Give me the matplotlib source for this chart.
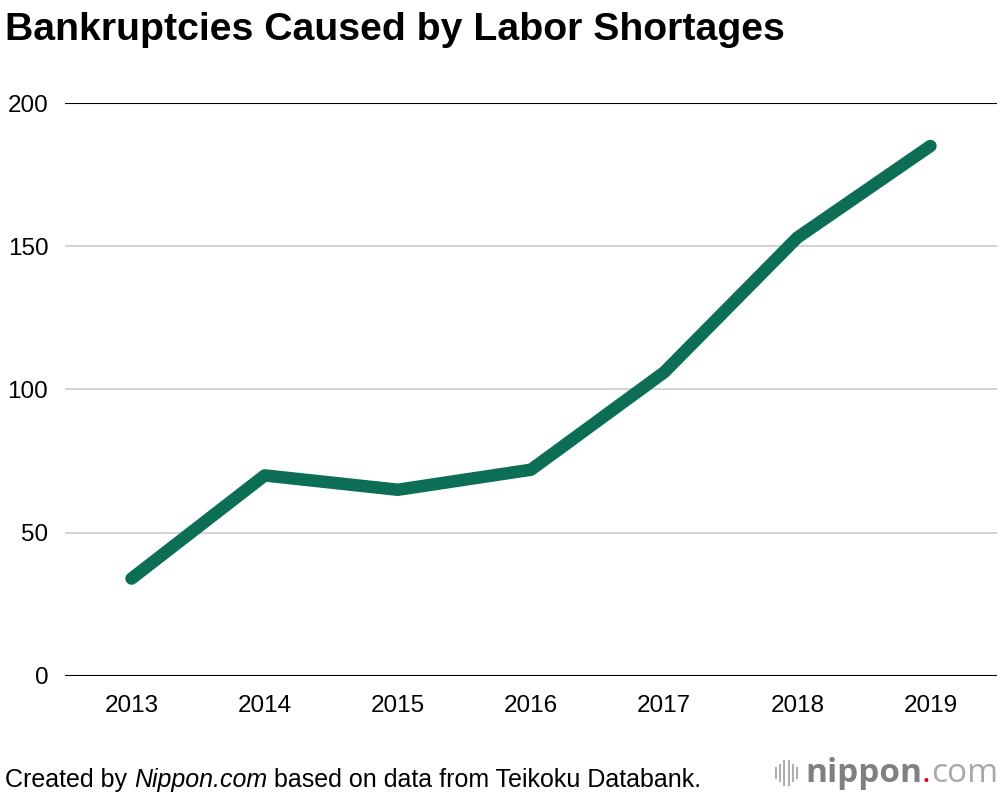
import matplotlib
matplotlib.use("Agg")
import matplotlib.pyplot as plt
from matplotlib.lines import Line2D

years = ["2013", "2014", "2015", "2016", "2017", "2018", "2019"]
bankruptcies = [34, 70, 65, 72, 106, 153, 185]
yticks = [0, 50, 100, 150, 200]

plt.rcParams['font.family'] = ['Liberation Sans', 'DejaVu Sans']

fig = plt.figure(figsize=(10, 7.96), dpi=100)
ax = fig.add_axes([0.065, 0.1508, 0.932, 0.7198])

x = list(range(len(years)))
ax.plot(x, bankruptcies, color='#0b6e55', lw=9, solid_capstyle='round',
        solid_joinstyle='round', zorder=3)

ax.set_xlim(-0.5, len(years) - 0.5)
ax.set_ylim(0, 200)
ax.set_yticks(yticks)
ax.set_xticks(x)
ax.set_xticklabels(years)
for s in ax.spines.values():
    s.set_visible(False)
for t in yticks:
    if t in (0, 200):
        ax.axhline(t, color='black', lw=1.5, zorder=2)
    else:
        ax.axhline(t, color='#cccccc', lw=1.2, zorder=1)
ax.tick_params(axis='both', length=0, labelsize=17.5, colors='black')
ax.tick_params(axis='y', pad=12)
ax.tick_params(axis='x', pad=14)

fig.text(0.005, 1 - 40 / 796, "Bankruptcies Caused by Labor Shortages", fontsize=28.3,
         fontweight='bold', ha='left', va='baseline')

fs = 18
yb = 1 - 787 / 796
fig.canvas.draw()
r = fig.canvas.get_renderer()
t1 = fig.text(0.005, yb, "Created by ", fontsize=fs, ha='left', va='baseline')
bb = t1.get_window_extent(r)
t2 = fig.text(bb.x1 / fig.bbox.width, yb, "Nippon.com", fontsize=fs, style='italic',
              ha='left', va='baseline')
bb2 = t2.get_window_extent(r)
fig.text(bb2.x1 / fig.bbox.width, yb, " based on data from Teikoku Databank.", fontsize=fs,
         ha='left', va='baseline')

# logo
lx = 0.776
heights = [0.012, 0.02, 0.03, 0.03, 0.02, 0.012]
for i, h in enumerate(heights):
    xx = lx + i * 0.0042
    fig.add_artist(Line2D([xx, xx], [0.029 - h / 2, 0.029 + h / 2], color='#b0b0b0', lw=1.5))
ly = 0.028
tl = fig.text(0.805, ly, "nippon", fontsize=24, fontweight='bold', color='#808080',
              ha='left', va='center', family=['Open Sans', 'DejaVu Sans'])
bbl = tl.get_window_extent(r)
td = fig.text(bbl.x1 / fig.bbox.width, ly, ".", fontsize=24, color='#e60012', ha='left',
              va='center', family=['Open Sans', 'DejaVu Sans'])
bbd = td.get_window_extent(r)
fig.text(bbd.x1 / fig.bbox.width, ly, "com", fontsize=24, color='#a8a8a8', ha='left',
         va='center', family=['Open Sans', 'DejaVu Sans'])

fig.savefig("out.png", dpi=100)
